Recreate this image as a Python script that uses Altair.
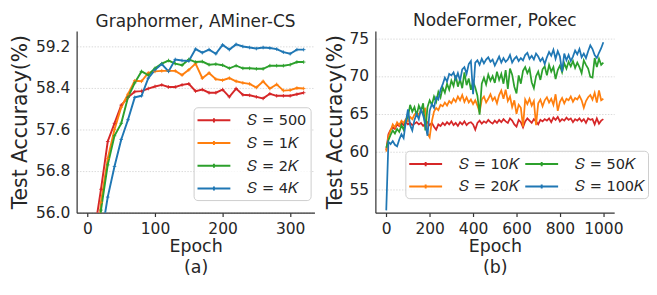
import altair as alt
import pandas as pd

# ---------------- Panel (a): Graphormer, AMiner-CS ----------------
a_epochs = list(range(0, 321, 10))
a_labels = ["𝑆 = 500", "𝑆 = 1𝐾", "𝑆 = 2𝐾", "𝑆 = 4𝐾"]
a_s500 = [50.5, 55.6, 56.45, 57.37, 57.72, 58.07, 58.22, 58.33, 58.34, 58.39, 58.43,
          58.46, 58.42, 58.42, 58.46, 58.48, 58.34, 58.37, 58.31, 58.31, 58.37, 58.23,
          58.39, 58.27, 58.26, 58.23, 58.20, 58.29, 58.25, 58.25, 58.25, 58.28, 58.31]
a_s1k = [50.0, 54.6, 56.2, 57.04, 57.6, 58.03, 58.28, 58.54, 58.53, 58.69, 58.72,
         58.73, 58.73, 58.73, 58.65, 58.75, 58.87, 58.59, 58.69, 58.57, 58.55, 58.59,
         58.53, 58.50, 58.48, 58.41, 58.53, 58.39, 58.47, 58.35, 58.36, 58.40, 58.39]
a_s2k = [49.5, 54.0, 56.05, 56.92, 57.48, 57.72, 58.22, 58.50, 58.72, 58.65, 58.78,
         58.87, 58.93, 58.87, 58.84, 58.95, 58.90, 58.91, 58.85, 58.86, 58.84, 58.78,
         58.83, 58.78, 58.78, 58.77, 58.77, 58.83, 58.83, 58.83, 58.85, 58.90, 58.90]
a_s4k = [48.0, 52.5, 55.5, 56.3, 56.89, 57.41, 57.79, 58.22, 58.25, 58.59, 58.75,
         58.86, 58.72, 58.95, 58.93, 58.92, 59.15, 59.08, 59.14, 59.06, 59.23, 59.14,
         59.24, 59.20, 59.18, 59.16, 59.18, 59.17, 59.15, 59.09, 59.06, 59.14, 59.14]
a_yticks = [56.0, 56.8, 57.6, 58.4, 59.2]
a_xticks = [0, 100, 200, 300]

# ---------------- Panel (b): NodeFormer, Pokec ----------------
b_epochs = list(range(0, 1001, 10))
b_labels = ["𝑆 = 10𝐾", "𝑆 = 20𝐾", "𝑆 = 50𝐾", "𝑆 = 100𝐾"]
b_s10k = [60.2, 62.3, 62.9, 63.2, 63.0, 63.6, 63.4, 63.8, 63.5, 63.9,
          63.6, 63.8, 63.5, 63.7, 63.9, 63.6, 63.8, 63.4, 63.7, 63.9,
          63.5, 63.8, 63.3, 62.9, 63.6, 63.4, 63.8, 63.5, 63.9, 63.6,
          64.0, 63.5, 63.8, 63.4, 63.9, 63.6, 64.0, 63.5, 63.8, 63.9,
          63.6, 62.9, 63.8, 64.1, 63.7, 64.0, 63.8, 64.2, 63.9, 63.7,
          64.1, 63.8, 64.2, 63.9, 64.3, 64.0, 63.8, 64.4, 64.1, 63.6,
          63.3, 64.2, 63.9, 63.2, 64.0, 64.4, 64.1, 63.8, 64.3, 64.0,
          63.6, 64.2, 64.0, 64.3, 64.1, 64.4, 63.9, 64.5, 64.2, 64.6,
          64.0, 64.3, 64.1, 64.5, 64.2, 64.4, 63.9, 64.3, 64.1, 64.4,
          64.0, 64.3, 63.8, 64.4, 64.2, 64.3, 63.6, 64.4, 63.7, 64.1, 64.3]
b_s20k = [60.0, 62.0, 62.8, 63.6, 63.2, 63.9, 63.5, 64.1, 63.8, 64.3,
          64.0, 64.6, 64.3, 64.9, 65.2, 64.8, 65.5, 65.1, 65.8, 62.4,
          61.9, 64.0, 65.3, 65.8, 65.5, 66.2, 66.0, 66.5, 66.1, 66.7,
          66.4, 67.0, 66.6, 67.3, 66.8, 67.5, 66.6, 67.2, 66.5, 66.9,
          66.3, 66.8, 66.1, 65.2, 66.9, 67.3, 66.5, 67.0, 67.6, 66.8,
          67.2, 66.4, 67.5, 68.1, 67.0, 68.2, 66.7, 67.3, 65.9, 66.8,
          65.0, 66.2, 65.8, 63.3, 66.9, 66.3, 67.0, 66.1, 66.7, 63.5,
          66.4, 66.9, 66.0, 66.8, 67.2, 66.5, 67.0, 66.2, 67.6, 65.4,
          66.6, 67.1, 66.4, 67.0, 66.8, 67.3, 66.6, 67.1, 66.9, 67.4,
          66.8, 65.8, 66.7, 67.2, 67.5, 66.9, 67.8, 66.5, 68.1, 66.8, 67.0]
b_s50k = [60.5, 61.5, 62.2, 62.8, 62.4, 63.0, 62.6, 63.5, 62.9, 64.0,
          64.6, 66.2, 65.3, 65.9, 64.8, 66.1, 65.4, 66.4, 62.8, 65.9,
          66.8, 66.2, 67.3, 66.6, 67.9, 67.2, 68.5, 67.8, 69.0, 68.2,
          69.4, 68.7, 70.1, 68.6, 69.6, 68.4, 70.5, 68.8, 69.7, 68.2,
          69.3, 68.5, 67.4, 64.9, 69.0, 69.8, 68.9, 70.2, 69.4, 70.0,
          69.1, 70.6, 69.5, 70.3, 69.0, 70.8, 68.3, 71.0, 70.2, 68.6,
          67.7, 70.1, 69.0, 70.7, 71.2, 70.4, 71.0, 69.2, 68.4, 70.0,
          70.6, 69.5, 70.9, 71.3, 70.1, 71.5, 70.6, 71.2, 69.6, 70.8,
          71.4, 70.5, 71.7, 71.0, 71.9, 71.3, 72.0, 71.1, 71.8, 71.2,
          70.4, 72.1, 71.5, 71.0, 69.9, 69.8, 72.4, 71.2, 72.3, 71.5, 71.8]
b_s100k = [52.2, 61.3, 61.0, 61.4, 60.9, 60.7, 61.6, 62.3, 61.8, 63.9,
           65.6, 63.5, 62.8, 64.2, 65.0, 64.3, 65.6, 64.8, 63.7, 62.1,
           65.4, 66.3, 65.8, 67.2, 66.9, 68.2, 68.9, 69.8, 69.3, 70.3,
           70.1, 70.5, 69.6, 70.4, 69.4, 70.9, 71.2, 70.3, 71.6, 72.0,
           67.6, 71.8, 72.1, 71.5, 72.3, 71.7, 72.2, 72.5, 71.9, 72.2,
           71.4, 72.0, 72.6, 71.8, 72.4, 71.9, 72.2, 72.8, 71.8, 72.3,
           72.6, 72.0, 72.4, 72.1, 72.8, 73.1, 72.3, 72.7, 72.2, 73.0,
           72.6, 72.0, 72.4, 71.6, 72.5, 73.2, 72.7, 73.5, 72.3, 73.3,
           72.6, 70.6, 73.0, 72.1, 72.8, 72.0, 72.6, 73.4, 72.9, 73.6,
           72.5, 73.0, 72.4, 73.3, 74.1, 73.6, 72.8, 72.4, 73.1, 73.7, 74.5]
b_yticks = [55, 60, 65, 70, 75]
b_xticks = [0, 200, 400, 600, 800, 1000]

colors = ["#d62728", "#ff7f0e", "#2ca02c", "#1f77b4"]

rows_a = []
for lab, vals in zip(a_labels, [a_s500, a_s1k, a_s2k, a_s4k]):
    rows_a += [{"epoch": e, "acc": v, "series": lab} for e, v in zip(a_epochs, vals)]
df_a = pd.DataFrame(rows_a)

rows_b = []
for lab, vals in zip(b_labels, [b_s10k, b_s20k, b_s50k, b_s100k]):
    rows_b += [{"epoch": e, "acc": v, "series": lab} for e, v in zip(b_epochs, vals)]
df_b = pd.DataFrame(rows_b)

FONT = "DejaVu Sans"
TXT = "#262626"
LEG_SYM = "M-2,0H2M0,-0.25V0.25"


def legend(x, y, columns):
    return alt.Legend(
        title=None, orient="none", legendX=x, legendY=y, columns=columns,
        symbolType=LEG_SYM, symbolSize=289, symbolStrokeWidth=2, symbolOffset=7.5,
        labelOffset=25, labelFont="DejaVu Sans", labelFontSize=15, labelColor=TXT,
        rowPadding=5.5, columnPadding=3, padding=4,
        fillColor="rgba(255,255,255,0.8)", strokeColor="#cccccc", cornerRadius=4,
    )


def panel(df, title, xdom, xticks, ydom, yticks, yfmt, xtitle, labels, leg, tpad, width, height,
          markers, lw):
    x = alt.X("epoch:Q", scale=alt.Scale(domain=xdom, nice=False, zero=False),
              axis=alt.Axis(values=xticks, format="d", title=xtitle, grid=False, ticks=True, tickSize=4,
                            labelPadding=5, titlePadding=1, titleLineHeight=22, titleFontSize=18))
    y = alt.Y("acc:Q", scale=alt.Scale(domain=ydom, nice=False, zero=False),
              axis=alt.Axis(values=yticks, format=yfmt, title="Test Accuracy(%)", grid=True,
                            ticks=False, labelPadding=7, titlePadding=tpad, titleFontSize=21))
    base = alt.Chart(df)
    line = base.mark_line(strokeWidth=lw, clip=True).encode(
        x=x, y=y,
        color=alt.Color("series:N", scale=alt.Scale(domain=labels[0], range=labels[1]), legend=leg),
    )
    layers = [line]
    if markers:
        pts = base.mark_point(shape="M-1,0L1,0M0,-1L0,1", size=14, filled=False, strokeWidth=0.9,
                              clip=True, opacity=1).encode(
            x=x, y=y,
            color=alt.Color("series:N", scale=alt.Scale(domain=labels[0], range=labels[1]), legend=None),
        )
        layers.append(pts)
    return alt.layer(*layers).properties(
        width=width, height=height,
        title=alt.TitleParams(title, font=FONT, fontSize=17.5, fontWeight="normal", color=TXT,
                              frame="group", offset=1),
    )


left = panel(df_a, "Graphormer, AMiner-CS", [-16, 336], a_xticks, [56.0, 59.5], a_yticks, ".1f",
             ["Epoch", "(a)"], (a_labels, colors), legend(121, 79, 1), 5.7, 246, 188, True, 2)

right = panel(df_b, "NodeFormer, Pokec", [-50, 1050], b_xticks, [51.9, 76.0], b_yticks, "d",
              ["Epoch", "(b)"], (b_labels, colors), legend(31, 124, 2), 4, 247, 188, False, 1.8)

chart = alt.hconcat(left, right, spacing=10, padding={"left": 1, "top": 0, "right": 0, "bottom": 0}).resolve_scale(
    color="independent").resolve_legend(color="independent").configure_view(stroke=None).configure_axis(
    domainColor="#333333", domainWidth=1.25, tickColor="#333333", tickWidth=1.25,
    gridColor="#cfcfcf", gridDash=[1.5, 1.5], gridWidth=0.8,
    labelFont=FONT, labelFontSize=16, labelColor=TXT,
    titleFont=FONT, titleFontWeight="normal", titleColor=TXT,
)

chart.save("out.html", embed_options={"renderer": "svg", "actions": False})
